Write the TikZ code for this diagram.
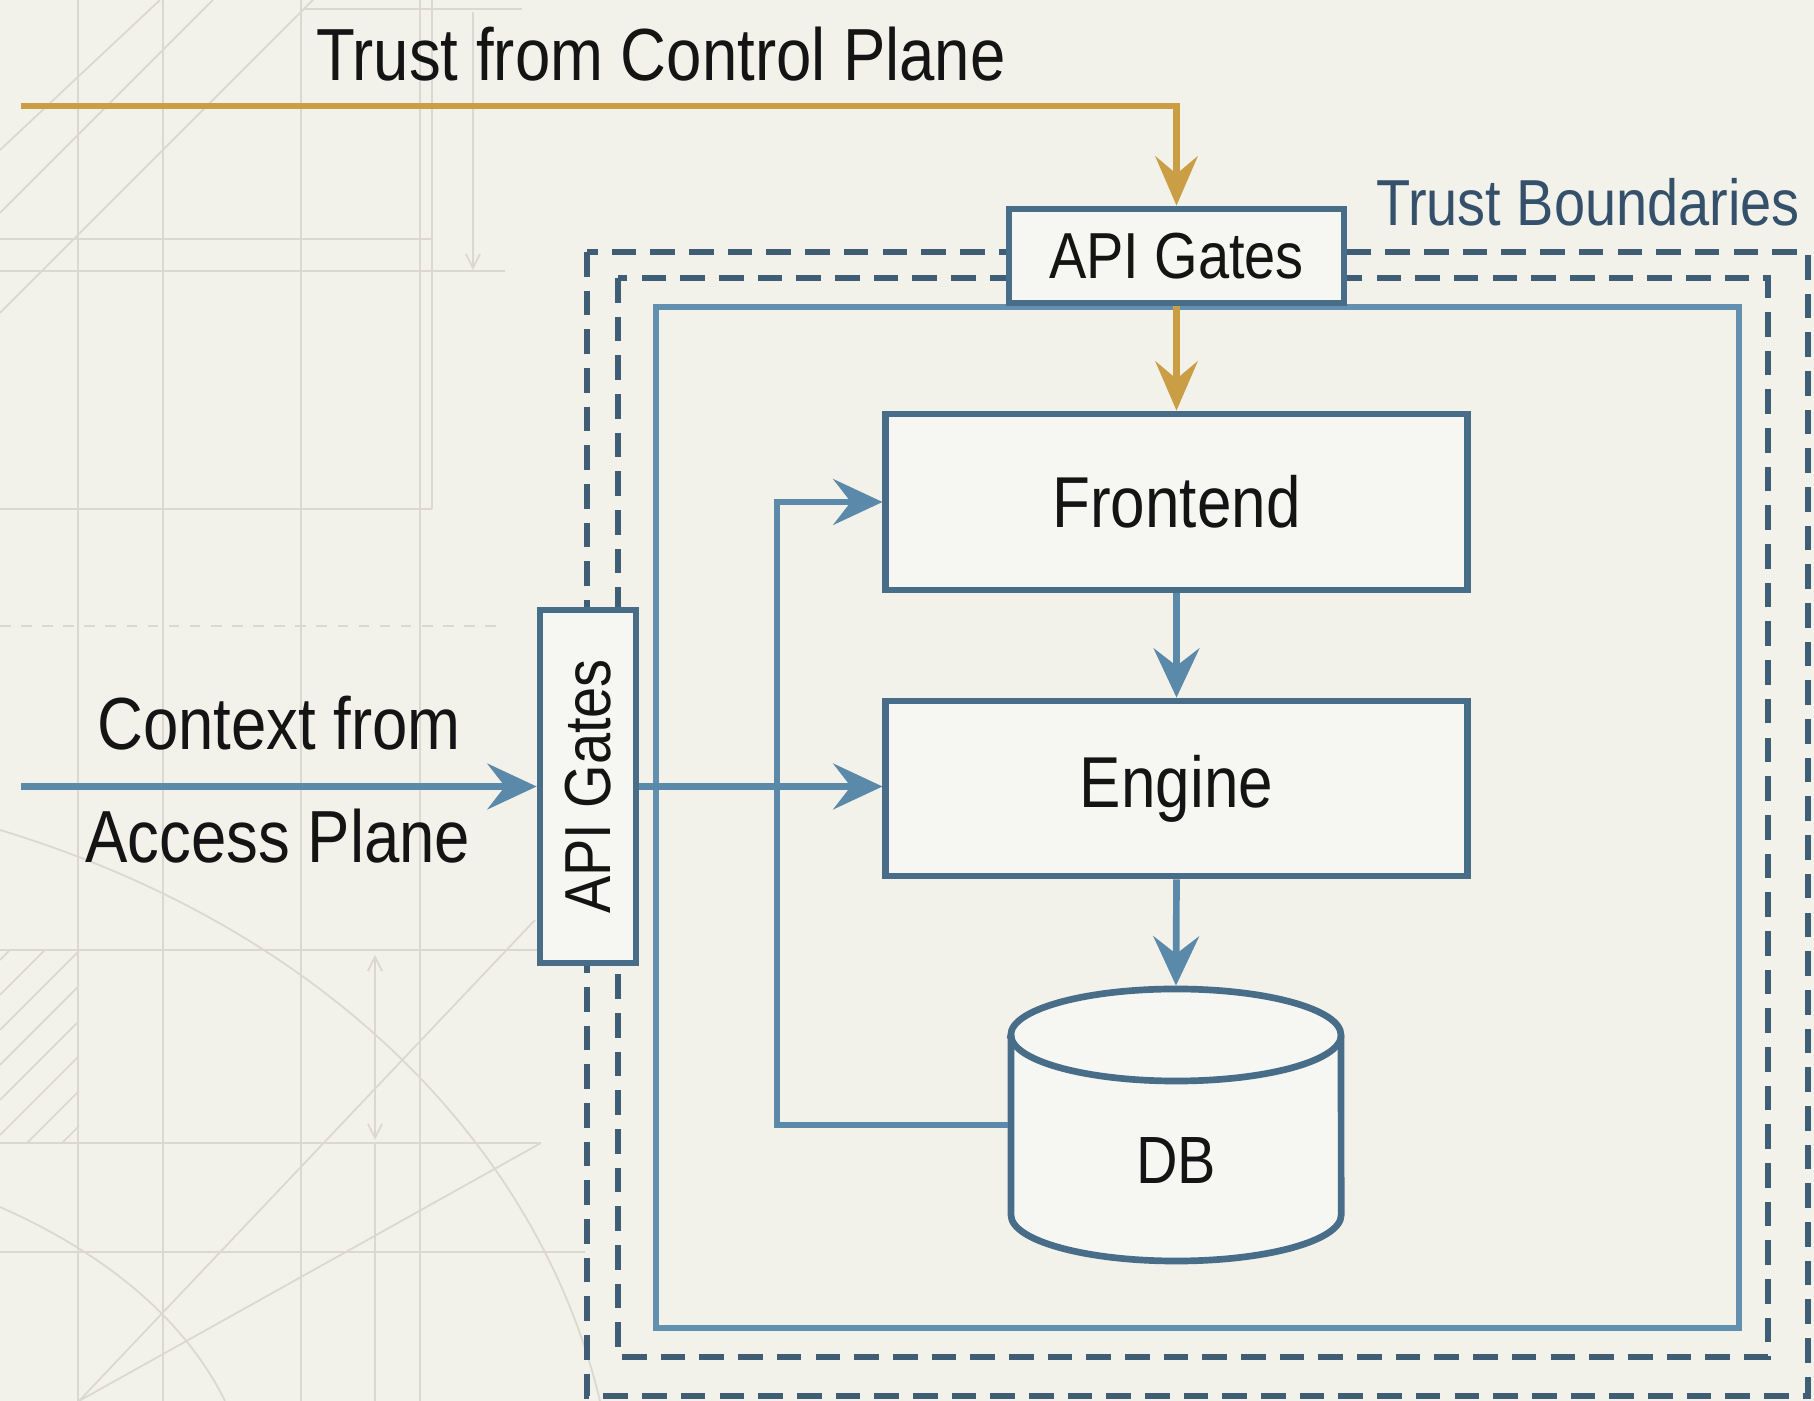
\documentclass[tikz,border=0pt]{standalone}
\usepackage{fontspec}
\setmainfont{Liberation Sans}[FakeStretch=0.86]
\usetikzlibrary{arrows.meta}

\definecolor{paper}{HTML}{F2F1EA}
\definecolor{sketch}{HTML}{DAD8D0}
\definecolor{gold}{HTML}{C99E45}
\definecolor{boxline}{HTML}{486D88}
\definecolor{flow}{HTML}{5B89A9}
\definecolor{dashline}{HTML}{3F5D75}
\definecolor{zone}{HTML}{6390AF}
\definecolor{boxfill}{HTML}{F6F6F2}
\definecolor{labelink}{HTML}{34506A}

\begin{document}
\begin{tikzpicture}[x=0.01cm, y=-0.01cm,
  block/.style={draw=boxline, line width=1.9pt, fill=boxfill, inner sep=0pt, outer sep=0.95pt,
                text=black!92, font=\fontsize{20.5}{24}\selectfont},
  gate/.style={block, font=\fontsize{18.5}{22}\selectfont},
  flowarrow/.style={draw=flow, line width=1.9pt, -{Stealth[length=14pt,width=13pt,inset=5pt]}},
  goldarrow/.style={draw=gold, line width=1.9pt, -{Stealth[length=14pt,width=12pt,inset=5pt]}},
  boundary/.style={draw=dashline, line width=1.8pt, dash pattern=on 7pt off 4pt},
  zonebox/.style={draw=zone, line width=1.6pt},
  sketchline/.style={draw=sketch, line width=0.5pt},
  caption/.style={inner sep=0pt, anchor=base, text=black!92, font=\fontsize{21}{25}\selectfont}]

% paper
\fill[paper] (0,0) rectangle (1814,1401);
\useasboundingbox (0,0) rectangle (1814,1401);

% faint drafting marks behind the diagram
\draw[sketchline] (78,0) -- (78,1401);
\draw[sketchline] (163,0) -- (163,1401);
\draw[sketchline] (301,0) -- (301,1401);
\draw[sketchline] (420,0) -- (420,1401);
\draw[sketchline] (432,0) -- (432,509);
\draw[sketchline] (0,239) -- (432,239);
\draw[sketchline] (0,271) -- (505,271);
\draw[sketchline] (0,509) -- (432,509);
\draw[sketchline] (303,9) -- (522,9);
\draw[sketchline, -{Straight Barb[length=4pt,width=4pt]}] (473,12) -- (473,270);
\draw[sketchline, dashed] (0,626) -- (505,626);
\draw[sketchline] (0,213) -- (213,0);
\draw[sketchline] (0,313) -- (313,0);
\draw[sketchline] (0,150) -- (160,0);
\draw[sketchline] (0,950) -- (545,950);
\draw[sketchline] (0,1143) -- (541,1143);
\draw[sketchline] (0,1252) -- (585,1252);
\draw[sketchline, {Straight Barb[length=4pt,width=4pt]}-{Straight Barb[length=4pt,width=4pt]}] (375,955) -- (375,1140);
\draw[sketchline] (375,1143) -- (375,1401);
\draw[sketchline] (79,1401) -- (541,1143);
\draw[sketchline] (79,1401) -- (535,920);
\draw[sketchline] (0,830) .. controls (330,930) and (540,1150) .. (600,1401);
\draw[sketchline] (0,1207) .. controls (120,1260) and (190,1330) .. (225,1401);
\begin{scope}
  \clip (0,950) rectangle (79,1143);
  \foreach \c in {960,995,...,1260} \draw[sketchline] (0,\c) -- (250,{\c-250});
\end{scope}

% trust boundaries
\draw[boundary] (587,252) rectangle (1808,1396);
\draw[boundary] (618,278) rectangle (1768,1357);
\draw[zonebox] (656,307) rectangle (1739,1328);

% components
\node[gate, minimum width=3.35cm, minimum height=0.94cm] (gtop) at (1176.5,256) {API Gates};
\node[gate, minimum width=0.96cm, minimum height=3.53cm] (gleft) at (588,786.5) {\rotatebox{90}{API Gates}};
\node[block, minimum width=5.81cm, minimum height=1.76cm] (front) at (1176.5,502) {Frontend};
\node[block, minimum width=5.81cm, minimum height=1.75cm] (eng) at (1176.5,788.5) {Engine};

% database cylinder
\node[minimum width=3.30cm, minimum height=2.72cm, inner sep=0pt, outer sep=0.95pt] (db) at (1176,1125) {};
\filldraw[fill=boxfill, draw=boxline, line width=1.9pt]
  (1011,1035) -- (1011,1215) arc[start angle=180, end angle=360, x radius=1.65cm, y radius=0.46cm]
  -- (1341,1035) arc[start angle=0, end angle=180, x radius=1.65cm, y radius=0.46cm] -- cycle;
\draw[boxline, line width=1.9pt] (1011,1035) arc[start angle=180, end angle=360, x radius=1.65cm, y radius=0.46cm];
\node[inner sep=0pt, text=black!92, font=\fontsize{19}{23}\selectfont] (dblabel) at (1176,1161) {DB};

% labels
\node[caption] (ctrl) at (661,81) {Trust from Control Plane};
\node[caption, text=labelink, font=\fontsize{18.5}{22}\selectfont] (tb) at (1588,226) {Trust Boundaries};
\node[caption] (ctx1) at (279,750) {Context from};
\node[caption] (ctx2) at (278,863) {Access Plane};

% connectors
\coordinate (ctrlin) at (21,106);
\coordinate (accin) at (21,786.5);
\coordinate (loop) at (777,1125);
\draw[goldarrow] (ctrlin) -| (gtop.north);
\draw[goldarrow] (gtop.south) -- (front.north);
\draw[flowarrow] (accin) -- (gleft.west);
\draw[flowarrow] (gleft.east) -- (gleft.east -| eng.west);
\draw[flowarrow] (front.south) -- (eng.north);
\draw[flowarrow] (eng.south) -- (db.north);
\draw[flowarrow] (db.west) -- (loop) |- (front.west);
\end{tikzpicture}
\end{document}
